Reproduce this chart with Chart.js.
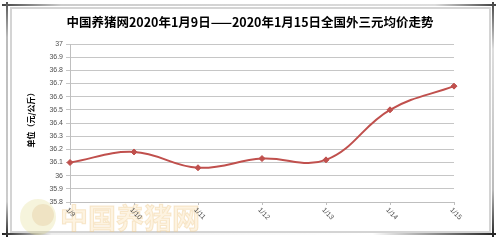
<!DOCTYPE html>
<html><head><meta charset="utf-8">
<script src="https://cdn.jsdelivr.net/npm/chart.js@4.4.1/dist/chart.umd.min.js"></script>
<style>html,body{margin:0;padding:0;background:#fff;}canvas{display:block;}</style>
</head><body>
<canvas id="c" width="500" height="240"></canvas>
<script>
const categories = ['1/9','1/10','1/11','1/12','1/13','1/14','1/15'];
const prices = [36.10, 36.18, 36.06, 36.13, 36.12, 36.50, 36.68];
const yMin = 35.8, yMax = 37, yStep = 0.1;
const titleText = '中国养猪网2020年1月9日——2020年1月15日全国外三元均价走势';
const yTitle = '单位（元/公斤）';
const watermark = '中国养猪网';

const extras = {
  id: 'extras',
  beforeDraw(chart) {
    const ctx = chart.ctx;
    ctx.save();
    ctx.fillStyle = '#fff';
    ctx.fillRect(0, 0, 500, 240);
    // inner light frame
    ctx.strokeStyle = '#d4d4d4';
    ctx.lineWidth = 2;
    ctx.strokeRect(11, 8, 479, 224);
    // outer frame gradients
    let g = ctx.createLinearGradient(2, 0, 494, 0);
    g.addColorStop(0, '#444'); g.addColorStop(0.12, '#ccc'); g.addColorStop(0.88, '#ddd'); g.addColorStop(1, '#444');
    ctx.strokeStyle = g; ctx.lineWidth = 2;
    ctx.beginPath(); ctx.moveTo(2, 5); ctx.lineTo(496, 5); ctx.stroke();
    g = ctx.createLinearGradient(0, 2, 0, 237);
    g.addColorStop(0, '#555'); g.addColorStop(0.15, '#bbb'); g.addColorStop(0.85, '#ccc'); g.addColorStop(1, '#222');
    ctx.strokeStyle = g;
    ctx.beginPath(); ctx.moveTo(7, 2); ctx.lineTo(7, 237); ctx.stroke();
    g = ctx.createLinearGradient(0, 2, 0, 237);
    g.addColorStop(0, '#444'); g.addColorStop(0.2, '#ddd'); g.addColorStop(0.8, '#bbb'); g.addColorStop(1, '#222');
    ctx.strokeStyle = g;
    ctx.beginPath(); ctx.moveTo(493, 2); ctx.lineTo(493, 237); ctx.stroke();
    g = ctx.createLinearGradient(2, 0, 496, 0);
    g.addColorStop(0, '#222'); g.addColorStop(0.1, '#eee'); g.addColorStop(0.75, '#fff'); g.addColorStop(1, '#222');
    ctx.strokeStyle = g;
    ctx.beginPath(); ctx.moveTo(2, 234); ctx.lineTo(496, 234); ctx.stroke();
    // watermark
    ctx.fillStyle = 'rgba(225,220,140,0.30)';
    ctx.beginPath(); ctx.arc(38, 217, 18, 0, Math.PI * 2); ctx.fill();
    ctx.fillStyle = 'rgba(215,170,110,0.22)';
    ctx.beginPath(); ctx.arc(43, 215, 11, 0, Math.PI * 2); ctx.fill();
    ctx.font = 'bold 28px "Noto Sans CJK SC"';
    ctx.textAlign = 'left'; ctx.textBaseline = 'middle';
    ctx.fillStyle = 'rgba(250,225,180,0.40)';
    ctx.fillText(watermark, 60, 218);
    ctx.strokeStyle = 'rgba(235,195,130,0.35)';
    ctx.lineWidth = 1;
    ctx.strokeText(watermark, 60, 218);
    // title
    ctx.fillStyle = '#000';
    ctx.font = 'bold 12.5px "Noto Sans CJK SC"';
    ctx.textAlign = 'center';
    ctx.fillText(titleText, 250, 22);
    // y title
    ctx.save();
    ctx.translate(31, 118);
    ctx.rotate(-Math.PI / 2);
    ctx.font = 'bold 8px "Noto Sans CJK SC"';
    ctx.fillText(yTitle, 0, 0);
    ctx.restore();
    ctx.restore();
  },
  afterDraw(chart) {
    const ctx = chart.ctx;
    const xs = chart.scales.x;
    ctx.save();
    ctx.font = '7px "Liberation Sans"';
    ctx.fillStyle = '#505050';
    ctx.textAlign = 'left'; ctx.textBaseline = 'middle';
    categories.forEach((c, i) => {
      const x = xs.getPixelForValue(i);
      ctx.save();
      ctx.translate(x - 3, 209);
      ctx.rotate(Math.PI / 4);
      ctx.fillText(c, 0, 0);
      ctx.restore();
    });
    ctx.restore();
  }
};

new Chart(document.getElementById('c'), {
  type: 'line',
  data: {
    labels: categories,
    datasets: [{
      data: prices,
      borderColor: '#C0504D',
      backgroundColor: '#C0504D',
      borderWidth: 2,
      tension: 0.4,
      pointStyle: 'rectRot',
      pointRadius: 3,
      pointBorderWidth: 1,
      fill: false
    }]
  },
  options: {
    responsive: false,
    animation: false,
    layout: { padding: { top: 44, right: 46, bottom: 0, left: 0 } },
    plugins: { legend: { display: false }, tooltip: { enabled: false } },
    scales: {
      x: {
        offset: false,
        grid: { display: true, drawOnChartArea: false, tickLength: 3, color: '#bfbfbf' },
        border: { color: '#bfbfbf' },
        ticks: { display: false },
        afterFit(s) { s.height = 38; }
      },
      y: {
        min: yMin, max: yMax,
        grid: { color: '#c6c6c6', tickLength: 4 },
        border: { color: '#bfbfbf' },
        ticks: {
          stepSize: yStep,
          font: { size: 7, family: 'Liberation Sans' },
          color: '#505050',
          padding: 3,
          callback: v => String(parseFloat(Number(v).toFixed(1)))
        },
        afterFit(s) { s.width = 70; }
      }
    }
  },
  plugins: [extras]
});
</script>
</body></html>
